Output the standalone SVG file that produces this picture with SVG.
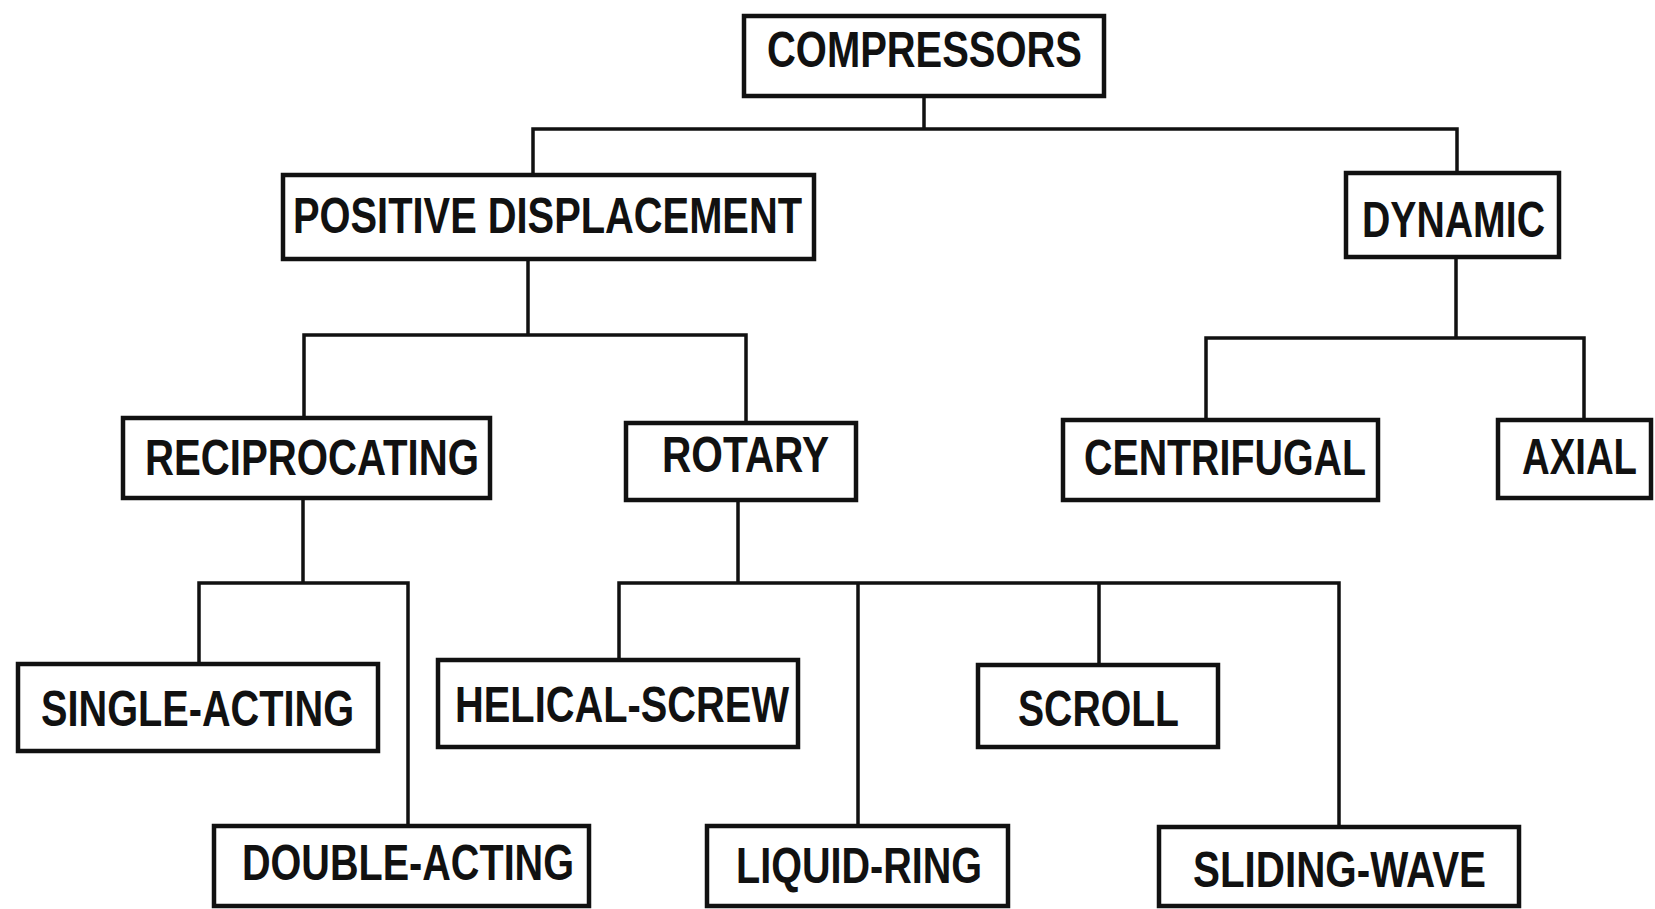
<svg xmlns="http://www.w3.org/2000/svg" width="1655" height="909" viewBox="0 0 1655 909">
<style>
.box{fill:#fff;stroke:#111;stroke-width:4.5}
.lbl{font-family:"Liberation Sans",Arial,sans-serif;font-weight:bold;font-size:50px;fill:#111}
.conn{fill:none;stroke:#111;stroke-width:3.5;stroke-linecap:square}
</style>
<rect width="1655" height="909" fill="#fff"/>
<g id="connectors" class="conn">
<path d="M924,96 V129 M533,129 H1457 M533,129 V175 M1457,129 V173"/>
<path d="M528,259 V335 M304,335 H746 M304,335 V418 M746,335 V423"/>
<path d="M1456,257 V338 M1206,338 H1584 M1206,338 V420 M1584,338 V420"/>
<path d="M303,498 V583 M199,583 H408 M199,583 V664 M408,583 V826"/>
<path d="M738,500 V583 M619,583 H1339 M619,583 V660 M858,583 V826 M1099,583 V665 M1339,583 V827"/>
</g>
<g id="compressors"><rect class="box" x="744" y="16" width="360" height="80"/><text class="lbl" x="767" y="67" textLength="315" lengthAdjust="spacingAndGlyphs">COMPRESSORS</text></g>
<g id="positive-displacement"><rect class="box" x="283" y="175" width="531" height="84"/><text class="lbl" x="293" y="233" textLength="509" lengthAdjust="spacingAndGlyphs">POSITIVE DISPLACEMENT</text></g>
<g id="dynamic"><rect class="box" x="1346" y="173" width="213" height="84"/><text class="lbl" x="1362" y="237" textLength="183" lengthAdjust="spacingAndGlyphs">DYNAMIC</text></g>
<g id="reciprocating"><rect class="box" x="123" y="418" width="367" height="80"/><text class="lbl" x="145" y="475" textLength="334" lengthAdjust="spacingAndGlyphs">RECIPROCATING</text></g>
<g id="rotary"><rect class="box" x="626" y="423" width="230" height="77"/><text class="lbl" x="662" y="472" textLength="167" lengthAdjust="spacingAndGlyphs">ROTARY</text></g>
<g id="centrifugal"><rect class="box" x="1063" y="420" width="315" height="80"/><text class="lbl" x="1084" y="475" textLength="282" lengthAdjust="spacingAndGlyphs">CENTRIFUGAL</text></g>
<g id="axial"><rect class="box" x="1498" y="420" width="153" height="78"/><text class="lbl" transform="translate(1522,474) scale(0.767,1)" x="0" y="0">AXIAL</text></g>
<g id="single-acting"><rect class="box" x="18" y="664" width="360" height="87"/><text class="lbl" x="41" y="726" textLength="313" lengthAdjust="spacingAndGlyphs">SINGLE-ACTING</text></g>
<g id="helical-screw"><rect class="box" x="438" y="660" width="360" height="87"/><text class="lbl" x="455" y="722" textLength="334" lengthAdjust="spacingAndGlyphs">HELICAL-SCREW</text></g>
<g id="scroll"><rect class="box" x="978" y="665" width="240" height="82"/><text class="lbl" x="1018" y="726" textLength="161" lengthAdjust="spacingAndGlyphs">SCROLL</text></g>
<g id="double-acting"><rect class="box" x="214" y="826" width="375" height="80"/><text class="lbl" x="242" y="880" textLength="332" lengthAdjust="spacingAndGlyphs">DOUBLE-ACTING</text></g>
<g id="liquid-ring"><rect class="box" x="707" y="826" width="301" height="80"/><text class="lbl" x="736" y="883" textLength="246" lengthAdjust="spacingAndGlyphs">LIQUID-RING</text></g>
<g id="sliding-wave"><rect class="box" x="1159" y="827" width="360" height="79"/><text class="lbl" x="1193" y="887" textLength="293" lengthAdjust="spacingAndGlyphs">SLIDING-WAVE</text></g>
</svg>
